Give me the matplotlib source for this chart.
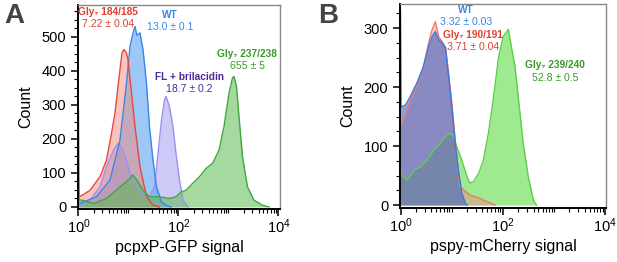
import numpy as np
import matplotlib
matplotlib.use("Agg")
import matplotlib.pyplot as plt
from matplotlib.ticker import FixedLocator, MultipleLocator, NullFormatter

plt.rcParams['font.family'] = ['Liberation Sans', 'DejaVu Sans']

# ---- panel A: pcpxP-GFP, x in log10 units, y in counts ----
a_red_x = [0.0, 0.01, 0.07, 0.23, 0.43, 0.56, 0.66, 0.73, 0.79, 0.87, 0.91, 0.96, 0.99, 1.06, 1.13, 1.23, 1.36, 1.49, 1.62]
a_red_y = [285, 30, 34, 49, 89, 138, 216, 276, 354, 453, 463, 453, 433, 335, 236, 118, 30, 5, 0]

a_wt_x = [0.0, 0.02, 0.36, 0.63, 0.83, 0.96, 1.03, 1.09, 1.13, 1.17, 1.23, 1.29, 1.36, 1.42, 1.49, 1.56, 1.66, 1.75, 1.85]
a_wt_y = [10, 10, 30, 79, 197, 364, 472, 512, 531, 505, 512, 463, 364, 236, 138, 59, 15, 5, 0]

a_bri_x = [0.0, 0.23, 0.43, 0.56, 0.70, 0.79, 0.86, 0.93, 1.03, 1.16, 1.29, 1.42, 1.52, 1.59, 1.66, 1.72, 1.75, 1.82, 1.89, 1.95, 2.02, 2.09, 2.19]
a_bri_y = [5, 20, 59, 118, 167, 187, 177, 148, 98, 59, 34, 30, 59, 157, 256, 315, 325, 295, 236, 157, 79, 20, 0]

a_grn_x = [0.0, 0.01, 0.07, 0.30, 0.56, 0.83, 0.99, 1.09, 1.19, 1.29, 1.42, 1.62, 1.82, 1.95, 2.05, 2.15, 2.28, 2.42, 2.55, 2.68,
           2.81, 2.91, 3.01, 3.08, 3.11, 3.16, 3.21, 3.28, 3.38, 3.51, 3.68, 3.81]
a_grn_y = [80, 20, 20, 10, 25, 59, 79, 94, 74, 49, 30, 30, 25, 30, 44, 49, 69, 89, 113, 128,
           167, 236, 335, 379, 384, 354, 266, 148, 59, 20, 5, 0]

# ---- panel B: pspy-mCherry ----
b_wt_x = [0.0, 0.01, 0.03, 0.10, 0.19, 0.32, 0.45, 0.55, 0.62, 0.68, 0.75, 0.81, 0.88, 0.94, 1.01, 1.07, 1.14, 1.20, 1.27, 1.31]
b_wt_y = [331, 167, 167, 170, 184, 207, 235, 269, 286, 294, 280, 275, 266, 218, 161, 105, 54, 20, 3, 0]

b_red_x = [0.0, 0.03, 0.10, 0.19, 0.32, 0.45, 0.55, 0.62, 0.68, 0.75, 0.81, 0.88, 0.94, 1.01, 1.07, 1.16, 1.36, 1.56, 1.69, 1.85]
b_red_y = [139, 139, 155, 178, 203, 236, 275, 298, 311, 285, 278, 268, 225, 168, 110, 31, 17, 11, 6, 0]

b_grn_x = [0.0, 0.06, 0.13, 0.26, 0.39, 0.52, 0.65, 0.78, 0.88, 0.97, 1.04, 1.10, 1.20, 1.30, 1.36, 1.43, 1.53, 1.62, 1.72,
           1.82, 1.92, 2.01, 2.11, 2.18, 2.24, 2.31, 2.40, 2.50, 2.60, 2.66]
b_grn_y = [54, 48, 42, 59, 65, 76, 93, 105, 116, 122, 116, 99, 76, 48, 37, 40, 54, 76, 122,
           184, 252, 286, 298, 263, 235, 178, 105, 48, 8, 0]

fig = plt.figure(figsize=(6.17, 2.62), dpi=100)
axA = fig.add_axes([0.1264, 0.2023, 0.3274, 0.7786])
axB = fig.add_axes([0.6483, 0.2061, 0.3339, 0.7786])


def hist(ax, lx, y, line, fill, alpha):
    x = 10 ** np.array(lx)
    ax.fill_between(x, 0, y, color=fill, alpha=alpha, lw=0)
    ax.plot(x, y, color=line, lw=1.0)


hist(axA, a_bri_x, a_bri_y, '#9a92ee', '#bab4f6', 0.7)
hist(axA, a_wt_x, a_wt_y, '#3a86e8', '#5aa2f0', 0.6)
hist(axA, a_red_x, a_red_y, '#e5483c', '#f08a80', 0.5)
hist(axA, a_grn_x, a_grn_y, '#3da83a', '#5cba52', 0.55)

hist(axB, b_grn_x, b_grn_y, '#5ccf4a', '#8ee67e', 0.85)
hist(axB, b_red_x, b_red_y, '#ec7a6a', '#f09080', 0.5)
hist(axB, b_wt_x, b_wt_y, '#3a78e0', '#3c5ec6', 0.58)

for ax, ylim, xlab in [(axA, (-6, 594), 'pcpxP-GFP signal'), (axB, (-5, 341), 'pspy-mCherry signal')]:
    ax.set_xscale('log')
    ax.set_xlim(10 ** -0.01, 10 ** 4.03)
    ax.set_ylim(*ylim)
    ax.xaxis.set_major_locator(FixedLocator([1, 100, 10000]))
    ax.set_xticklabels([r'$\mathregular{10^{0}}$', r'$\mathregular{10^{2}}$', r'$\mathregular{10^{4}}$'])
    ax.xaxis.set_minor_locator(FixedLocator([m * 10 ** d for d in range(4) for m in range(2, 10)] + [10, 1000]))
    ax.xaxis.set_minor_formatter(NullFormatter())
    ax.yaxis.set_major_locator(MultipleLocator(100))
    ax.yaxis.set_minor_locator(MultipleLocator(25))
    ax.tick_params(which='major', direction='out', length=5, width=1.1, labelsize=10.5, color='black')
    ax.tick_params(which='minor', direction='out', length=3, width=0.8, color='black')
    ax.tick_params(axis='x', pad=1)
    for s in ['left', 'bottom']:
        ax.spines[s].set_linewidth(1.4)
        ax.spines[s].set_color('black')
    for s in ['top', 'right']:
        ax.spines[s].set_linewidth(1.0)
        ax.spines[s].set_color('#888888')
    ax.set_ylabel('Count', fontsize=11.5, labelpad=6)
    ax.set_xlabel(xlab, fontsize=11.5, labelpad=3)
axB.set_xlim(10 ** -0.01, 10 ** 4.02)

# annotations (figure pixel coords -> fraction)
W, H = 617.0, 262.0


def lab(x, y, s, c, bold=False, size=7.3):
    fig.text(x / W, 1 - y / H, s, color=c, ha='center', va='center',
             fontsize=size, fontweight='bold' if bold else 'normal')


lab(108, 12, 'Gly\u2087 184/185', '#e0402f', True)
lab(108, 24, '7.22 \u00b1 0.04', '#e0402f', size=7.6)
lab(170, 15, 'WT', '#3a86e8', True)
lab(170, 27, '13.0 \u00b1 0.1', '#3a86e8', size=7.6)
lab(189, 77, 'FL + brilacidin', '#4b2a9a', True)
lab(189, 89, '18.7 \u00b1 0.2', '#4b2a9a', size=7.6)
lab(247, 54, 'Gly\u2087 237/238', '#3a9a2a', True)
lab(247, 66, '655 \u00b1 5', '#3a9a2a', size=7.6)

lab(466, 10, 'WT', '#3a86e8', True)
lab(466, 22, '3.32 \u00b1 0.03', '#3a86e8', size=7.6)
lab(473, 35, 'Gly\u2087 190/191', '#e0402f', True)
lab(473, 47, '3.71 \u00b1 0.04', '#e0402f', size=7.6)
lab(555, 65, 'Gly\u2087 239/240', '#3a9a2a', True)
lab(555, 78, '52.8 \u00b1 0.5', '#3a9a2a', size=7.6)

fig.text(14 / W, 1 - 16 / H, 'A', fontsize=20, fontweight='bold', color='#444444', ha='center', va='center')
fig.text(328 / W, 1 - 16 / H, 'B', fontsize=20, fontweight='bold', color='#444444', ha='center', va='center')

fig.savefig('out.png', dpi=100)
